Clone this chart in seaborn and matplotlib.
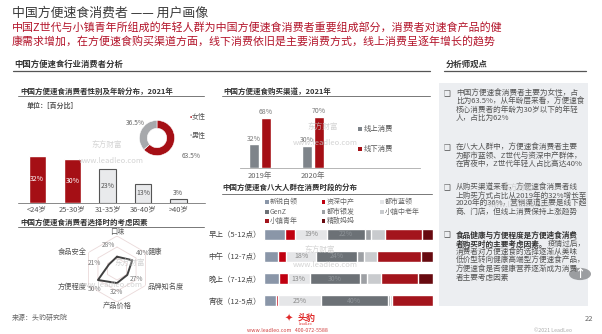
import numpy as np
import pandas as pd
import matplotlib
matplotlib.use("Agg")
import matplotlib.pyplot as plt
import seaborn as sns
from matplotlib.lines import Line2D
from matplotlib.patches import Rectangle, Circle

sns.set_theme(style="white")
plt.rcParams['font.family'] = ['Noto Sans CJK SC', 'DejaVu Sans']
plt.rcParams['axes.unicode_minus'] = False

# ---------------- data ----------------
age_groups = ["<24岁", "25-30岁", "31-35岁", "36-40岁", ">40岁"]
age_share = [32, 30, 23, 13, 3]

gender_labels = ["女性", "男性"]
gender_share = [63.5, 36.5]

channel_years = ["2019年", "2020年"]
channel_types = ["线上消费", "线下消费"]
online_share = [32, 30]
offline_share = [68, 70]

periods = ["早上（5-12点）", "中午（12-7点）", "晚上（7-12点）", "宵夜（12-5点）"]
crowd_groups = ["新锐白领", "资深中产", "都市蓝领", "GenZ", "都市银发", "小镇中老年", "小镇青年", "精致妈妈"]
share_xinrui = [12.5, 8, 9, 7]
share_zishen = [6, 5, 5, 1.5]
share_lanling = [19, 18, 13, 25]
share_genz = [22, 24, 30, 40]
share_yinfa = [4, 4, 4, 1]
share_xiaozhen_old = [8, 8, 8, 1]
share_xiaozhen_young = [22, 26, 22, 24.5]
share_mama = [6.5, 7, 9, 0]
labeled_groups = ["都市蓝领", "GenZ"]

factors = ["口味", "健康", "品牌知名度", "产品价格", "方便程度", "食品安全"]
factor_share = [28, 40, 27, 32, 50, 21]

# ---------------- figure helpers ----------------
W, H = 602, 334
fig = plt.figure(figsize=(W / 100, H / 100), dpi=100)
fig.patch.set_facecolor("white")


def ax_px(x0, y0, x1, y1, **kw):
    return fig.add_axes([x0 / W, 1 - y1 / H, (x1 - x0) / W, (y1 - y0) / H], **kw)


def txt(x, y, s, **kw):
    kw.setdefault("va", "center")
    return fig.text(x / W, 1 - y / H, s, **kw)


def hline(x0, x1, y, color="#555555", lw=0.8):
    fig.add_artist(Line2D([x0 / W, x1 / W], [1 - y / H, 1 - y / H],
                          transform=fig.transFigure, color=color, lw=lw))


def square(x, y, color, s=4):
    fig.add_artist(Rectangle((x / W, 1 - (y + s / 2) / H), s / W, s / H,
                             transform=fig.transFigure, color=color, lw=0))


RED = "#a50f15"
TXT = "#444444"
WM = "#c9c9c9"

# ---------------- header ----------------
txt(12, 13, "中国方便速食消费者 —— 用户画像", fontsize=9.3, color="#3a3a3a")
txt(12, 27, "中国Z世代与小镇青年所组成的年轻人群为中国方便速食消费者重要组成部分，消费者对速食产品的健",
    fontsize=7.9, color="#b3142a")
txt(12, 42, "康需求增加，在方便速食购买渠道方面，线下消费依旧是主要消费方式，线上消费呈逐年增长的趋势",
    fontsize=7.9, color="#b3142a")

txt(14, 64, "中国方便速食行业消费者分析", fontsize=6.0, color="#333333", fontweight="bold")
hline(13, 430, 71, "#555555", 0.9)
txt(446, 64, "分析师观点", fontsize=6.0, color="#333333", fontweight="bold")
hline(444, 586, 71, "#555555", 0.9)

# ---------------- age + gender ----------------
txt(20, 91, "中国方便速食消费者性别及年龄分布，2021年", fontsize=5.4, color="#333333", fontweight="bold")
hline(18, 204, 96, "#777777", 0.7)
txt(27, 105, "单位：[百分比]", fontsize=5.0, color="#555555", fontweight="bold")

ax_age = ax_px(19.4, 140, 196, 203)
age_colors = [RED, RED, "#e9eaec", "#e9eaec", "#e9eaec"]
sns.barplot(x=age_groups, y=age_share, hue=age_groups, palette=age_colors, legend=False,
            saturation=1, width=0.48, ax=ax_age)
ax_age.set_xlim(-0.5, 4.5)
ax_age.set_ylim(0, 63 / 1.47)
for i, (cont, v) in enumerate(zip(ax_age.containers, age_share)):
    bar = cont[0]
    cx = bar.get_x() + bar.get_width() / 2
    if age_colors[i] != RED:
        bar.set_edgecolor("#555555")
        bar.set_linewidth(0.8)
    if v >= 10:
        ax_age.text(cx, v / 2, f"{v}%", ha="center", va="center", fontsize=5.0,
                    color="white" if age_colors[i] == RED else "#555555")
    else:
        ax_age.text(cx, v + 1.2, f"{v}%", ha="center", va="bottom", fontsize=5.0, color="#555555")
ax_age.set_yticks([])
ax_age.set_ylabel("")
ax_age.set_xlabel("")
ax_age.tick_params(axis="x", labelsize=5.4, labelcolor="#555555", pad=2, length=0)
for sp in ax_age.spines.values():
    sp.set_visible(False)
ax_age.patch.set_alpha(0)
hline(18, 205, 203, "#888888", 0.7)

ax_pie = ax_px(135, 116, 179, 160)
ax_pie.pie(gender_share, colors=[RED, "#a7a9ac"], startangle=90, counterclock=False,
           wedgeprops=dict(width=0.45, edgecolor="white", linewidth=0.4))
ax_pie.set_aspect("equal")
txt(145, 123, f"{gender_share[1]}%", fontsize=4.8, color="#666666", ha="right")
txt(182, 156, f"{gender_share[0]}%", fontsize=4.8, color="#666666", ha="left")
txt(187, 117, "•", fontsize=6, color=RED)
txt(192, 117, gender_labels[0], fontsize=5.0, color="#555555")
txt(187, 136, "•", fontsize=6, color="#a7a9ac")
txt(192, 136, gender_labels[1], fontsize=5.0, color="#555555")

# ---------------- radar ----------------
txt(20, 222, "中国方便速食消费者选择时的考虑因素", fontsize=5.4, color="#333333", fontweight="bold")
hline(18, 204, 227, "#777777", 0.7)

ax_r = ax_px(84, 236, 150, 302, projection="polar")
rmax = 75
ang = np.linspace(0, 2 * np.pi, len(factors), endpoint=False)
ang_c = np.concatenate([ang, ang[:1]])
ax_r.set_theta_offset(np.pi / 2)
ax_r.set_theta_direction(-1)
ax_r.set_ylim(0, rmax)
ax_r.grid(False)
ax_r.set_xticks([])
ax_r.set_yticks([])
ax_r.spines["polar"].set_visible(False)
ax_r.patch.set_alpha(0)
for rr in [rmax / 3, 2 * rmax / 3, rmax]:
    ax_r.plot(ang_c, [rr] * len(ang_c), color="#ead9d9", lw=0.6)
vals = np.array(factor_share, dtype=float)
ax_r.plot(ang_c, np.concatenate([vals, vals[:1]]), color="#404040", lw=1.4)
label_off = [(-9, -12), (10, -7), (9, 4), (0, 9), (-3, 9), (-15, -1)]
for a, v, (dx, dy) in zip(ang, factor_share, label_off):
    ax_r.annotate(f"{v}%", xy=(a, v), xytext=(dx * 0.72, -dy * 0.72), textcoords="offset points",
                  ha="center", va="center", fontsize=4.8, color="#777777")
name_align = ["center", "left", "left", "center", "right", "right"]
for a, name, al in zip(ang, factors, name_align):
    rr = rmax * (1.13 if al == "center" else 1.06)
    ax_r.text(a, rr, name, ha=al, va="center", fontsize=5.2, color="#555555")

txt(12, 318, "来源：头豹研究院", fontsize=5.0, color="#666666")

# ---------------- purchase channel ----------------
txt(223, 91, "中国方便速食购买渠道，2021年", fontsize=5.4, color="#333333", fontweight="bold")
hline(222, 430, 96, "#777777", 0.7)

ax_ch = ax_px(240, 108, 420, 168)
ch_df = pd.DataFrame({
    "year": channel_years * 2,
    "type": [channel_types[0]] * 2 + [channel_types[1]] * 2,
    "value": online_share + offline_share,
})
ch_colors = ["#7e848a", RED]
sns.barplot(data=ch_df, x="year", y="value", hue="type", hue_order=channel_types,
            palette=ch_colors, saturation=1, width=0.44, gap=0.15, ax=ax_ch)
if ax_ch.legend_ is not None:
    ax_ch.legend_.remove()
ax_ch.set_xlim(-0.377, 3.02)
ax_ch.set_ylim(0, 60 / 0.735)
for cont in ax_ch.containers:
    for bar in cont:
        v = bar.get_height()
        ax_ch.text(bar.get_x() + bar.get_width() / 2, v + 2.5, f"{v:.0f}%", ha="center",
                   va="bottom", fontsize=5.0, color="#777777")
ax_ch.set_yticks([])
ax_ch.set_xlabel("")
ax_ch.set_ylabel("")
ax_ch.tick_params(axis="x", labelsize=5.4, labelcolor="#666666", pad=3, length=0)
for sp in ["top", "right", "left"]:
    ax_ch.spines[sp].set_visible(False)
ax_ch.spines["bottom"].set_color("#aaaaaa")
ax_ch.spines["bottom"].set_linewidth(0.6)
ax_ch.patch.set_alpha(0)
square(358, 129, ch_colors[0])
txt(364, 129, channel_types[0], fontsize=5.3, color="#555555")
square(358, 149, ch_colors[1])
txt(364, 149, channel_types[1], fontsize=5.3, color="#555555")

# ---------------- crowd by period ----------------
txt(222, 187, "中国方便速食八大人群在消费时段的分布", fontsize=5.4, color="#333333", fontweight="bold")
hline(222, 432, 194, "#777777", 0.7)

crowd_colors = ["#8a96a8", "#c00010", "#e5e6e8", "#6c7176",
                "#9da0a4", "#c9cbce", "#a3141c", "#680a10"]
shares = np.array([share_xinrui, share_zishen, share_lanling, share_genz,
                   share_yinfa, share_xiaozhen_old, share_xiaozhen_young, share_mama])
cum = np.cumsum(shares, axis=0)

ax_st = ax_px(264, 223, 433, 312)
for i in range(len(crowd_groups) - 1, -1, -1):
    sns.barplot(x=cum[i], y=periods, color=crowd_colors[i], orient="h", width=0.5,
                saturation=1, ax=ax_st)
ax_st.set_xlim(0, 100)
ax_st.set_ylim(3.5, -0.5)
for gi, g in enumerate(crowd_groups):
    if g in labeled_groups:
        for pi in range(len(periods)):
            v = shares[gi, pi]
            start = cum[gi, pi] - v
            ax_st.text(start + v / 2, pi, f"{v:.0f}%", ha="center", va="center", fontsize=5.0,
                       color="#888888" if g == "都市蓝领" else "#8e9398")
ax_st.set_xticks([])
ax_st.set_xlabel("")
ax_st.set_ylabel("")
ax_st.tick_params(axis="y", labelsize=5.4, labelcolor="#444444", pad=2, length=0)
for sp in ax_st.spines.values():
    sp.set_visible(False)
ax_st.patch.set_alpha(0)

leg_x = [265, 322, 380]
leg_y = [202, 212, 221]
for k, (g, c) in enumerate(zip(crowd_groups, crowd_colors)):
    col, row = k % 3, k // 3
    square(leg_x[col], leg_y[row], c, s=3.5)
    txt(leg_x[col] + 5, leg_y[row], g, fontsize=5.0, color="#666666")

# ---------------- analyst panel ----------------
fig.add_artist(Rectangle((439 / W, 1 - 306 / H), (588 - 439) / W, (306 - 83) / H,
                         transform=fig.transFigure, color="#eceef1", lw=0, zorder=0))
BUL = "❑"
panel = [
    (94, "中国方便速食消费者主要为女性，占", True),
    (102, "比为63.5%，从年龄层来看，方便速食", False),
    (110, "核心消费者的年龄为30岁以下的年轻", False),
    (118, "人，占比为62%", False),
    (148, "在八大人群中，方便速食消费者主要", True),
    (156, "为都市蓝领、Z世代与资深中产群体，", False),
    (164, "在宵夜中，Z世代年轻人占比高达40%", False),
    (188, "从购买渠道来看，方便速食消费者线", True),
    (196, "上购买方式占比从2019年的32%增长至", False),
    (204, "2020年的36%，营销渠道主要是线下超", False),
    (212, "商、门店，但线上消费保持上涨趋势", False),
]
for y, s, first in panel:
    if first:
        txt(444, y, BUL, fontsize=5.5, color="#555555")
    txt(456, y, s, fontsize=5.5, color="#555555")

txt(444, 235, BUL, fontsize=5.5, color="#555555")
txt(456, 235, "食品健康与方便程度是方便速食消费", fontsize=5.5, color="#333333", fontweight="bold")
tb = txt(456, 244, "者购买时的主要考虑因素。", fontsize=5.5, color="#333333", fontweight="bold")
fig.canvas.draw()
bb = tb.get_window_extent()
txt(bb.x1, 244, "疫情过后，", fontsize=5.5, color="#555555")
for y, s in [(253, "消费者对方便速食的选择逐渐从美味"), (261, "低价型转向健康高端型方便速食产品，"),
             (270, "方便速食是否健康营养逐渐成为消费"), (278, "者主要考虑因素")]:
    txt(456, y, s, fontsize=5.5, color="#555555")

# scroll-to-top button
fig.add_artist(Circle((580 / W, 1 - 274 / H), 11 / W, transform=fig.transFigure,
                      color="#8d8f92", alpha=0.85, lw=0))
txt(580, 274, "↑", fontsize=8, color="white", ha="center", fontweight="bold")

# ---------------- watermarks ----------------
for x, y in [(107, 145), (323, 127), (320, 250), (518, 188), (130, 263)]:
    txt(x, y, "东方财富", fontsize=5.5, color=WM, ha="center", alpha=0.8)
for x, y in [(111, 161), (325, 143), (325, 265), (520, 205), (110, 285)]:
    txt(x, y, "www.leadleo.com", fontsize=5.5, color=WM, ha="center", alpha=0.8)

# ---------------- footer ----------------
txt(289, 319, "✦", fontsize=7, color="#e02a2a", ha="center")
txt(298, 318, "头豹", fontsize=6.5, color="#e02a2a", fontweight="bold")
txt(305, 324, "LeadLeo", fontsize=2.5, color="#e02a2a", ha="center")
txt(287, 330, "www.leadleo.com   400-072-5588", fontsize=3.8, color="#d04040", ha="center")
txt(553, 330, "©2021 LeadLeo", fontsize=3.8, color="#aaaaaa", ha="center")
txt(589, 319, "22", fontsize=5.5, color="#666666", ha="center")

fig.savefig("out.png", dpi=100, facecolor="white")
